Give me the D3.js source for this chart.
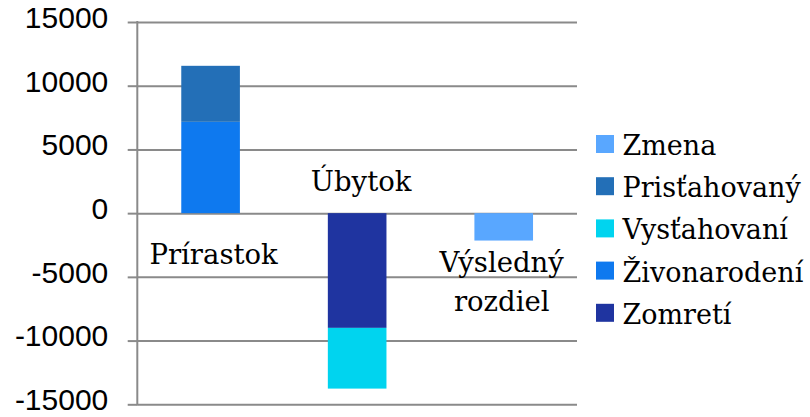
<!DOCTYPE html>
<html><head><meta charset="utf-8">
<script src="https://cdn.jsdelivr.net/npm/d3@7"></script>
<style>body{margin:0;background:#fff}svg{display:block}</style>
</head><body><div id="chart"></div>
<script>
const categories = ["Prírastok", "Úbytok", "Výsledný rozdiel"];
const seriesNames = ["Zmena", "Prisťahovaný", "Vysťahovaní", "Živonarodení", "Zomretí"];
const zmena        = [0, 0, -2150];
const pristahovany = [4395, 0, 0];
const vystahovani  = [0, -4765, 0];
const zivonarodeni = [7167, 0, 0];
const zomreti      = [0, -9003, 0];
const yTicks = [-15000, -10000, -5000, 0, 5000, 10000, 15000];
const colors = {"Zmena":"#59a7ff","Prisťahovaný":"#236fb7","Vysťahovaní":"#00d4ef","Živonarodení":"#0e79ef","Zomretí":"#1f34a0"};

(function(){
const W = 810, H = 417;
const pLeft = 137.3, pRight = 577, pTop = 22, pBottom = 404.3;
const svg = d3.select("#chart").append("svg").attr("width", W).attr("height", H);

const x = d3.scaleBand().domain(categories).range([pLeft, pRight]).padding(0);
const y = d3.scaleLinear().domain([-15000, 15000]).range([pBottom, pTop]);

// grid
const grid = svg.append("g").attr("transform", `translate(${pLeft},0)`)
  .call(d3.axisLeft(y).tickValues(yTicks).tickSize(-(pRight - pLeft)).tickFormat(""));
grid.select(".domain").remove();
grid.selectAll("line").attr("stroke", "#8a8a8a").attr("stroke-width", 2);

// table for stack
const table = categories.map((c, i) => ({
  cat: c,
  "Zmena": zmena[i], "Prisťahovaný": pristahovany[i], "Vysťahovaní": vystahovani[i],
  "Živonarodení": zivonarodeni[i], "Zomretí": zomreti[i]
}));
const stackKeys = seriesNames.slice().reverse();
const stacked = d3.stack().keys(stackKeys).offset(d3.stackOffsetDiverging)(table);
const bw = x.bandwidth() * 0.4;
svg.append("g").selectAll("g").data(stacked).join("g")
  .attr("fill", d => colors[d.key])
  .selectAll("rect").data(d => d.filter(p => p[1] !== p[0])).join("rect")
  .attr("x", d => x(d.data.cat) + (x.bandwidth() - bw) / 2)
  .attr("width", bw)
  .attr("y", d => y(Math.max(d[0], d[1])))
  .attr("height", d => Math.abs(y(d[0]) - y(d[1])));

// y axis
const ax = svg.append("g").attr("transform", `translate(${pLeft},0)`)
  .call(d3.axisLeft(y).tickValues(yTicks).tickSize(9.6).tickPadding(19.4).tickFormat(d => String(d)));
ax.select(".domain").attr("stroke", "#8a8a8a").attr("stroke-width", 2).attr("d", `M0,${pTop - 1}V${pBottom + 1}`);
ax.selectAll(".tick line").attr("stroke", "#8a8a8a").attr("stroke-width", 2);
ax.selectAll(".tick text").attr("font-family", "'Liberation Sans', Arial, sans-serif").attr("font-size", 30)
  .attr("fill", "#000").attr("dy", "0.18em");

// category labels (data labels)
const labelFont = "'DejaVu Serif', serif";
const labelLines = [["Prírastok"], ["Úbytok"], ["Výsledný", "rozdiel"]];
const labelOffsets = [51, -22, 59]; // baseline offset from zero line
labelLines.forEach((lines, i) => {
  const cx = x(categories[i]) + x.bandwidth() / 2;
  lines.forEach((t, j) => {
    svg.append("text").attr("x", cx + [3, 4, -2][i]).attr("y", y(0) + labelOffsets[i] + j * 38.5)
      .attr("text-anchor", "middle").attr("font-family", labelFont).attr("font-size", 27.5)
      .attr("fill", "#000").text(t);
  });
});

// legend
const lg = svg.append("g");
seriesNames.forEach((s, i) => {
  const by = 155 + i * 42.2;
  lg.append("rect").attr("x", 596).attr("y", by - 20).attr("width", 18).attr("height", 18).attr("fill", colors[s]);
  lg.append("text").attr("x", 622.5).attr("y", by).attr("font-family", labelFont).attr("font-size", 27)
    .attr("fill", "#000").text(s);
});
})();
</script></body></html>
